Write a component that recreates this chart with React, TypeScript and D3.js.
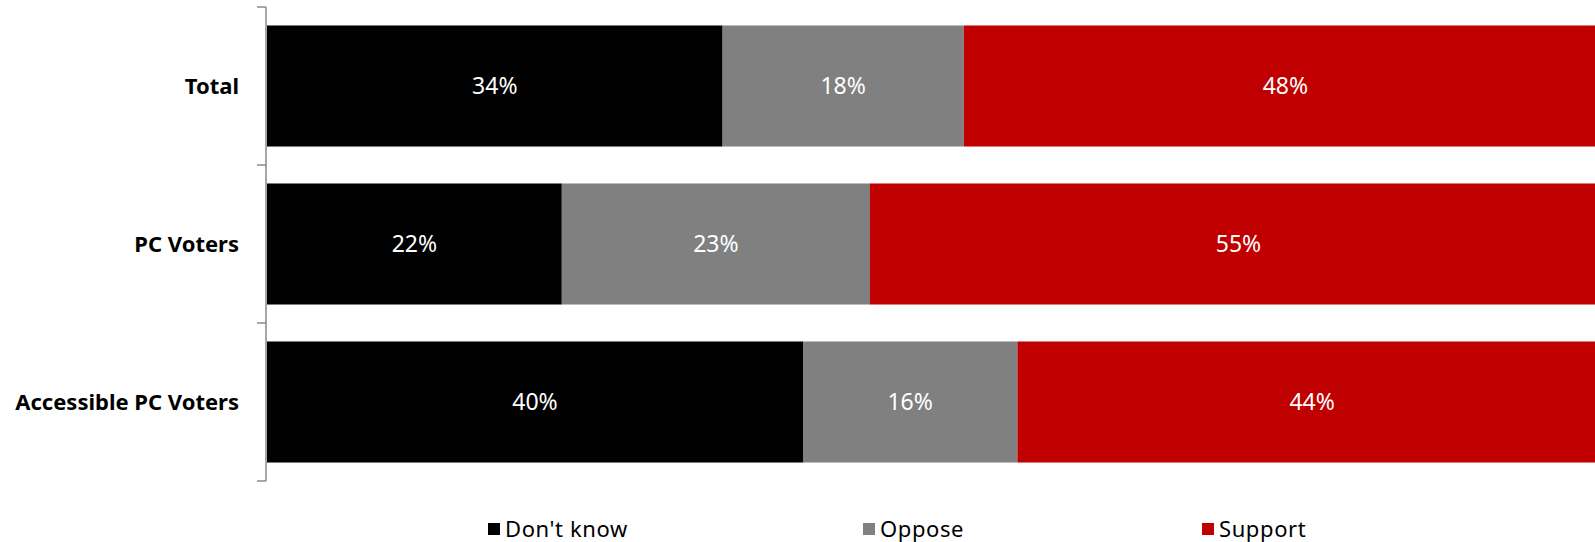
import React from "react";
import * as d3 from "d3";

const categories = ["Total", "PC Voters", "Accessible PC Voters"];
const seriesNames = ["Don't know", "Oppose", "Support"];
const dontKnow = [34, 22, 40];
const oppose = [18, 23, 16];
const support = [48, 55, 44];
const colors = ["#000000", "#808080", "#C00000"];

const W = 1595;
const H = 542;

export default function App() {
  const x = d3.scaleLinear().domain([0, 100]).range([267, 1607]);
  const y = d3
    .scaleBand<string>()
    .domain(categories)
    .range([7, 481])
    .paddingInner(0.234)
    .paddingOuter(0.117);

  const table = categories.map((c, i) => ({
    cat: c,
    [seriesNames[0]]: dontKnow[i],
    [seriesNames[1]]: oppose[i],
    [seriesNames[2]]: support[i],
  }));
  const stack = d3.stack<any>().keys(seriesNames)(table);
  const step = y.step();
  const y0 = y.range()[0];
  const tickYs = d3.range(categories.length + 1).map((i) => y0 + i * step);
  const legendX = [488, 863, 1202];

  return (
    <svg
      width={W}
      height={H}
      style={{ position: "absolute", left: 0, top: 0, background: "#fff" }}
      fontFamily="'Noto Sans', sans-serif"
    >
      <defs>
        <clipPath id="plot">
          <rect x={0} y={0} width={W} height={H} />
        </clipPath>
      </defs>
      <g clipPath="url(#plot)">
        {stack.map((s, si) =>
          s.map((d, i) => {
            const x0 = x(d[0]);
            const x1 = x(d[1]);
            const by = y(categories[i])!;
            const bh = y.bandwidth();
            return (
              <g key={`${si}-${i}`}>
                <rect x={x0} y={by} width={x1 - x0} height={bh} fill={colors[si]} />
                <text
                  x={(x0 + x1) / 2}
                  y={by + bh / 2}
                  dy="0.35em"
                  textAnchor="middle"
                  fill="#fff"
                  fontSize={23}
                >
                  {`${d[1] - d[0]}%`}
                </text>
              </g>
            );
          })
        )}
      </g>
      {/* axis */}
      <line x1={266} x2={266} y1={tickYs[0]} y2={tickYs[tickYs.length - 1]} stroke="#898989" strokeWidth={1.5} />
      {tickYs.map((t, i) => (
        <line key={i} x1={257} x2={266} y1={t} y2={t} stroke="#898989" strokeWidth={1.5} />
      ))}
      {categories.map((c) => (
        <text
          key={c}
          x={239}
          y={y(c)! + y.bandwidth() / 2}
          dy="0.35em"
          textAnchor="end"
          fontWeight="bold"
          fontSize={22}
          fill="#000"
        >
          {c}
        </text>
      ))}
      {seriesNames.map((n, i) => (
        <g key={n}>
          <rect x={legendX[i]} y={523} width={12} height={12} fill={colors[i]} />
          <text x={legendX[i] + 17} y={529} dy="0.35em" fontSize={22} letterSpacing={0.6} fill="#000">
            {n}
          </text>
        </g>
      ))}
    </svg>
  );
}
